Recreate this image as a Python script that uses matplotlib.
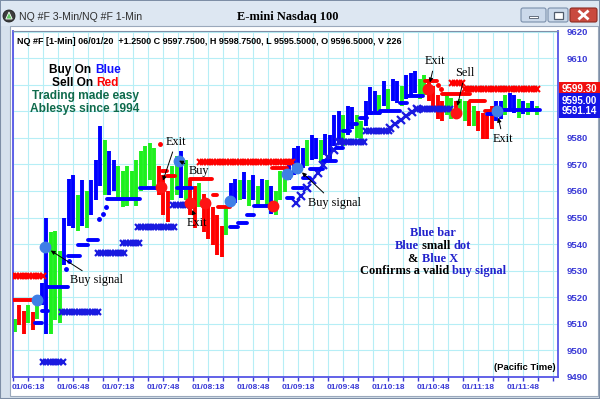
import numpy as np
import matplotlib
matplotlib.use("Agg")
import matplotlib.pyplot as plt
from matplotlib.patches import Rectangle, Circle, FancyBboxPatch, Polygon
from matplotlib.ticker import FixedLocator
from matplotlib.transforms import blended_transform_factory

plt.rcParams['font.family'] = ['Liberation Sans', 'DejaVu Sans']

# ---------- Chart data ----------
# NQ 1-min bars read off every 3 minutes; time = minutes after midnight
bar_first = 369
bar_step = 3
bar_high = [
    9512, 9517, 9515, 9517, 9514.5, 9519.5, 9525.5, 9550, 9544.5, 9545,
    9537.5, 9550, 9564.5, 9566, 9558.5, 9564, 9560, 9564, 9571.5, 9584.5,
    9579, 9575, 9571.5, 9569.5, 9567.5, 9569.5, 9567.5, 9571.5, 9575, 9577,
    9578, 9576, 9569.5, 9566, 9560, 9569.5, 9573, 9575, 9571.5, 9564,
    9562, 9563, 9559, 9556.5, 9554, 9551, 9547, 9554.5, 9563, 9564.5,
    9564, 9567, 9564, 9566, 9562, 9564.5, 9564, 9562, 9560, 9567.5,
    9568.5, 9571.5, 9576, 9577, 9576, 9579, 9581, 9580, 9579, 9581.5,
    9581, 9588.5, 9590, 9588.5, 9592, 9591.5, 9588.5, 9586.5, 9594, 9599,
    9597.5, 9596, 9601.5, 9598.5, 9602, 9601.5, 9599.5, 9603.5, 9604.5, 9605,
    9602, 9603.5, 9602, 9599.5, 9596, 9594, 9596, 9595, 9594, 9594.5,
    9594, 9594, 9592, 9590, 9589.5, 9588.5, 9592, 9594, 9594, 9596,
    9597, 9596, 9594.5, 9594, 9593, 9594, 9592,
]
bar_low = [
    9507, 9509.5, 9506, 9510.5, 9507.5, 9512, 9517, 9506, 9506, 9511.5,
    9510.5, 9532, 9547, 9546, 9545, 9547, 9546, 9551, 9556.5, 9562,
    9558.5, 9558.5, 9560, 9556.5, 9554, 9554.5, 9556.5, 9554.5, 9560, 9562,
    9564, 9562, 9558.5, 9551, 9548.5, 9556.5, 9558.5, 9557.5, 9556.5, 9551,
    9546, 9554, 9544.5, 9542, 9539.5, 9536, 9535, 9543.5, 9554.5, 9555.5,
    9556.5, 9557, 9554.5, 9556.5, 9554.5, 9556.5, 9554.5, 9551.5, 9551, 9556.5,
    9559.5, 9564, 9566, 9567, 9568.5, 9569.5, 9571.5, 9572, 9570.5, 9573.5,
    9572, 9577, 9579, 9577, 9581, 9583.5, 9580, 9579, 9584.5, 9588.5,
    9589, 9588.5, 9592, 9591, 9594, 9593, 9592, 9594.5, 9596, 9597,
    9594.5, 9596, 9594, 9590, 9587, 9586.5, 9588.5, 9587, 9587.5, 9589.5,
    9586.5, 9584.5, 9584.5, 9582.5, 9579.5, 9579.5, 9583.5, 9586.5, 9587, 9588.5,
    9590, 9589.5, 9587.5, 9589, 9588.5, 9590, 9588.5,
]
bar_color = ("grrgrgbbgg" "gbbbgbgbbb" "gbbggggggg" "ggrrrggbgr" "rgrrrrrgbb"
             "gbgbgbgbgg" "gbbbbgbbgb" "bbbgbbggbb" "bgbgbbgbbb" "ggrrrrggrg"
             "grgrrrrbbg" "bbgbgbg")

time_ticks = [378, 408, 438, 468, 498, 528, 558, 588, 618, 648, 678, 708]
time_labels = ["01/06:18", "01/06:48", "01/07:18", "01/07:48", "01/08:18", "01/08:48",
               "01/09:18", "01/09:48", "01/10:18", "01/10:48", "01/11:18", "01/11:48"]
price_ticks = [9490, 9500, 9510, 9520, 9530, 9540, 9550, 9560, 9570, 9580, 9590, 9600, 9610, 9620]
hidden_price_labels = [9590, 9600]   # covered by the price tags

# red X resistance line (start, end, price)
red_x_start = [368, 492.7, 660.7, 669]
red_x_end = [389.3, 554.7, 668, 719.3]
red_x_level = [9528, 9571, 9600.5, 9598.5]

# red stop line
red_line_start = [368, 467.3, 470.7, 486, 501, 504.7, 540.7, 642.7, 654, 672.7, 682.7]
red_line_end = [384, 470.7, 476, 500.7, 504, 512.7, 550.7, 650.7, 672.7, 682.7, 690.7]
red_line_level = [9519, 9567.5, 9565.5, 9564.5, 9558.5, 9554, 9568.5, 9601.5, 9596.5, 9594, 9590]
red_dot_t = [466, 651.5, 653]
red_dot_p = [9577.5, 9600, 9598.5]

# blue support line ("blue small dot")
blue_line_start = [382.7, 387.3, 390.7, 404.7, 411.3, 418, 430.7, 452.7, 477.3, 512.7, 518,
                   524, 528.7, 550.7, 554.7, 561.3, 566, 574.7, 583.3, 588, 592.7, 599.3,
                   604, 612.7, 626, 630.7, 684, 690.7]
blue_line_end = [387.3, 391.3, 404.7, 412.7, 418, 424.7, 452.7, 466, 487, 518, 524,
                 528.7, 541.3, 554.7, 561.3, 566, 574.7, 583.3, 588, 592.7, 597.3, 604,
                 612.7, 626, 630.7, 641.3, 690.7, 719.3]
blue_line_level = [9510.3, 9515, 9524, 9535.4, 9539.5, 9541.4, 9557, 9561.3, 9561.3, 9546.3, 9548,
                   9551, 9554.5, 9557.5, 9561.3, 9565, 9568.4, 9571.4, 9576, 9582.6, 9585.3, 9587.5,
                   9589.4, 9590.1, 9593, 9595.8, 9589, 9590.6]
blue_dot_t = [403.5, 405.5, 425.5, 428, 430]
blue_dot_p = [9530.5, 9533.5, 9549.5, 9551.5, 9554]

# blue X support (start, end, start price, end price)
blue_x_start = [388, 400.7, 424.7, 441.3, 451.3, 474.7, 556.7, 586.7, 603.3, 619.3, 637.3]
blue_x_end = [402.7, 426, 444, 452.7, 477.3, 486, 586.7, 603.3, 619.3, 637.3, 661.3]
blue_x_from = [9495.6, 9514.4, 9536.5, 9540.3, 9546.6, 9554.9, 9555.3, 9578.5, 9582.6, 9583.8, 9591]
blue_x_to = [9495.6, 9514.4, 9536.5, 9540.3, 9546.6, 9554.9, 9579.4, 9578.5, 9582.6, 9591, 9591]

# signal dots
buy_sig_t = [384, 389.3, 478.7, 512.7, 550.7, 557.3, 690.5]
buy_sig_p = [9519, 9539, 9571.4, 9556.4, 9566.5, 9568.8, 9590.1]
sell_sig_t = [466.5, 486, 496, 541.1, 644.9, 663.3]
sell_sig_p = [9561.4, 9555.3, 9555.3, 9554.5, 9598.3, 9589.5]

# annotations: text, text position, arrow target
note_text = ["Exit", "Buy", "Exit", "Buy signal", "Buy signal", "Exit", "Sell", "Exit"]
note_t = [476.7, 492, 490.7, 424, 582, 649.3, 669.3, 694.7]
note_p = [9578.5, 9567.6, 9547.8, 9526.4, 9555.6, 9608.9, 9604.4, 9579.6]
note_xy_t = [466.5, 478.7, 486, 389.3, 557.3, 644.9, 663.3, 690.5]
note_xy_p = [9561.4, 9571.4, 9555.3, 9539, 9568.8, 9598.3, 9589.5, 9590.1]

tag_values = [9599.30, 9595.00, 9591.14]
tag_colors = ['#f01010', '#1414e6', '#1414e6']

BLUE = '#0000ff'
GREEN = '#1ef01e'
RED = '#ff0000'
AXIS_BLUE = '#3a3ad6'
bar_cmap = {'b': BLUE, 'g': GREEN, 'r': RED}

# ---------- Figure / window frame ----------
fig = plt.figure(figsize=(6, 3.99), dpi=100)


def px_box(x0, y0, x1, y1):
    return [x0 / 600, 1 - y1 / 399, (x1 - x0) / 600, (y1 - y0) / 399]


bg = fig.add_axes([0, 0, 1, 1], zorder=0)
bg.set_xlim(0, 600)
bg.set_ylim(399, 0)
bg.axis('off')
bg.add_patch(Rectangle((0, 0), 600, 399, fc='#d6e1ed', ec='#7d8ea6', lw=1.5))
bg.add_patch(Rectangle((1, 1), 598, 25, fc='#dde7f2', ec='none'))
bg.add_patch(Rectangle((10, 26), 588, 370, fc='white', ec='#9aa8bb', lw=0.8))

# title bar buttons
bg.add_patch(FancyBboxPatch((521, 8), 25, 14, boxstyle='round,pad=0,rounding_size=2',
                            fc='#cbd9ea', ec='#7a8fab', lw=0.8))
bg.add_patch(Rectangle((529, 15.5), 9, 2.5, fc='white', ec='#505c6c', lw=0.6))
bg.add_patch(FancyBboxPatch((548, 8), 20, 14, boxstyle='round,pad=0,rounding_size=2',
                            fc='#cbd9ea', ec='#7a8fab', lw=0.8))
bg.add_patch(Rectangle((553.5, 11.5), 9, 7, fc='white', ec='#505c6c', lw=0.9))
bg.add_patch(FancyBboxPatch((570, 8), 27, 14, boxstyle='round,pad=0,rounding_size=2',
                            fc='#c94a3f', ec='#8c2c24', lw=0.8))
bg.plot([579.5, 587.5], [11.5, 18.5], color='white', lw=2)
bg.plot([579.5, 587.5], [18.5, 11.5], color='white', lw=2)

# window icon
bg.add_patch(Circle((9, 16), 6, fc='#3e3e3e', ec='#1c1c1c', lw=0.6))
bg.add_patch(Polygon([(5.8, 19), (12.2, 19), (9, 12)], closed=True, fc='#62c862', ec='white', lw=0.6))

bg.text(19, 16.5, "NQ #F 3-Min/NQ #F 1-Min", fontsize=7.6, color='#2e2e2e', ha='left', va='center')
bg.text(288, 17, "E-mini Nasdaq 100", fontsize=8.9, fontweight='bold', family='Liberation Serif',
        color='black', ha='center', va='center')

# ---------- Price panel ----------
ax = fig.add_axes(px_box(13, 31, 558, 377), zorder=1)
ax.set_facecolor('white')
ax.set_xlim(368, 368 + 545 / 1.5)
ax.set_ylim(9490, 9620.2)
ax.set_axisbelow(True)

ax.xaxis.set_major_locator(FixedLocator(time_ticks))
ax.xaxis.set_minor_locator(FixedLocator(np.arange(368, 731, 10)))
ax.set_xticklabels(time_labels)
ax.yaxis.tick_right()
ax.set_yticks(price_ticks)
ax.set_yticklabels(['' if v in hidden_price_labels else str(v) for v in price_ticks])
ax.grid(True, which='both', axis='x', color='#b6eef6', lw=0.8)
ax.grid(True, which='major', axis='y', color='#b6eef6', lw=0.8)
ax.tick_params(axis='x', which='both', length=3, width=1, color=AXIS_BLUE, pad=2,
               labelsize=6, labelcolor=AXIS_BLUE)
ax.tick_params(axis='y', length=0, pad=6, labelsize=6.8, labelcolor=AXIS_BLUE)
for lab in ax.get_xticklabels() + ax.get_yticklabels():
    lab.set_fontweight('bold')
for side in ['left', 'bottom', 'right']:
    ax.spines[side].set_color('#5555e6')
    ax.spines[side].set_linewidth(1.3)
ax.spines['top'].set_color('#8090a8')
ax.spines['top'].set_linewidth(0.8)

# bars
bar_t = bar_first + bar_step * np.arange(len(bar_high))
ax.vlines(bar_t, bar_low, bar_high, colors=[bar_cmap[c] for c in bar_color], lw=2.8, zorder=2)

# red X resistance
for s, e, v in zip(red_x_start, red_x_end, red_x_level):
    tt = np.arange(s, e + 0.01, 2.2)
    ax.plot(tt, np.full(len(tt), v), ls='none', marker='x', ms=4, mew=1.5, color=RED, zorder=3)

# blue X support
for s, e, v0, v1 in zip(blue_x_start, blue_x_end, blue_x_from, blue_x_to):
    sloped = v0 != v1
    tt = np.arange(s, e + 0.01, 3.6 if sloped else 2.2)
    vv = np.interp(tt, [s, e], [v0, v1])
    ax.plot(tt, vv, ls='none', marker='x', ms=6 if sloped else 4, mew=1.6, color='#1a1ae0', zorder=3)

# stop lines
for s, e, v in zip(red_line_start, red_line_end, red_line_level):
    ax.plot([s, e], [v, v], color=RED, lw=2.8, solid_capstyle='round', zorder=4)
ax.plot(red_dot_t, red_dot_p, 'o', ms=2.5, color=RED, zorder=4)
for s, e, v in zip(blue_line_start, blue_line_end, blue_line_level):
    ax.plot([s, e], [v, v], color=BLUE, lw=2.8, solid_capstyle='round', zorder=4)
ax.plot(blue_dot_t, blue_dot_p, 'o', ms=2.5, color=BLUE, zorder=4)

# signal dots
ax.plot(buy_sig_t, buy_sig_p, 'o', ms=7.5, color='#3f7fe6', mec='#3f7fe6', zorder=5)
ax.plot(sell_sig_t, sell_sig_p, 'o', ms=7.5, color='#ff1414', mec='#ff1414', zorder=5)

for txt, tx, tp, xt, xp in zip(note_text, note_t, note_p, note_xy_t, note_xy_p):
    ax.annotate(txt, xy=(xt, xp), xytext=(tx, tp), ha='center', va='center',
                family='Liberation Serif', fontsize=8.8, color='black', zorder=6,
                arrowprops=dict(arrowstyle='-|>', color='black', lw=0.7,
                                mutation_scale=6, shrinkA=1, shrinkB=5))

# header line
ax.text(4 / 545, 1 - 11 / 346,
        "NQ #F [1-Min] 06/01/20  +1.2500 C 9597.7500, H 9598.7500, L 9595.5000, O 9596.5000, V 226",
        transform=ax.transAxes, fontsize=6.5, fontweight='bold', color='black', ha='left', va='center')
ax.text(1 - 2 / 545, 10 / 346, "(Pacific Time)", transform=ax.transAxes, fontsize=6.8,
        fontweight='bold', color='black', ha='right', va='center')

# price tags on the right axis
tr = blended_transform_factory(ax.transAxes, ax.transData)
for v, c in zip(tag_values, tag_colors):
    ax.add_patch(Rectangle((1.0025, v - 3.7), 0.08, 5.4, transform=tr, fc=c, ec='none',
                           clip_on=False, zorder=7))
    ax.text(1.0075, v - 1.0, f"{v:.2f}", transform=tr, fontsize=7, fontweight='bold',
            color='white', ha='left', va='center', clip_on=False, zorder=8)

# ---------- Overlay texts ----------
ov = fig.add_axes([0, 0, 1, 1], zorder=2)
ov.set_xlim(0, 600)
ov.set_ylim(399, 0)
ov.axis('off')
ov.patch.set_alpha(0)
renderer = fig.canvas.get_renderer()


def mixed_line(xc, y, parts, **kw):
    texts = [ov.text(0, y, s, color=c, ha='left', va='center', **kw) for s, c in parts]
    widths = [t.get_window_extent(renderer).width for t in texts]
    x = xc - sum(widths) / 2
    for t, w in zip(texts, widths):
        t.set_x(x)
        x += w


left_kw = dict(fontsize=8.6, fontweight='bold')
mixed_line(85, 70, [("Buy On ", 'black'), ("Blue", '#1010ff')], **left_kw)
mixed_line(85, 83, [("Sell On ", 'black'), ("Red", '#ff0000')], **left_kw)
mixed_line(85, 96, [("Trading made easy", '#0f6b4c')], **left_kw)
mixed_line(85, 109, [("Ablesys since 1994", '#0f6b4c')], **left_kw)

mid_kw = dict(fontsize=8.9, fontweight='bold', family='Liberation Serif')
mid_blue = '#2222cc'
mixed_line(433, 233, [("Blue bar", mid_blue)], **mid_kw)
mixed_line(433, 246, [("Blue", mid_blue), (" small ", 'black'), ("dot", mid_blue)], **mid_kw)
mixed_line(433, 259, [("& ", 'black'), ("Blue X", mid_blue)], **mid_kw)
mixed_line(433, 271, [("Confirms a valid ", 'black'), ("buy signal", mid_blue)], **mid_kw)

fig.savefig("out.png", dpi=100)
